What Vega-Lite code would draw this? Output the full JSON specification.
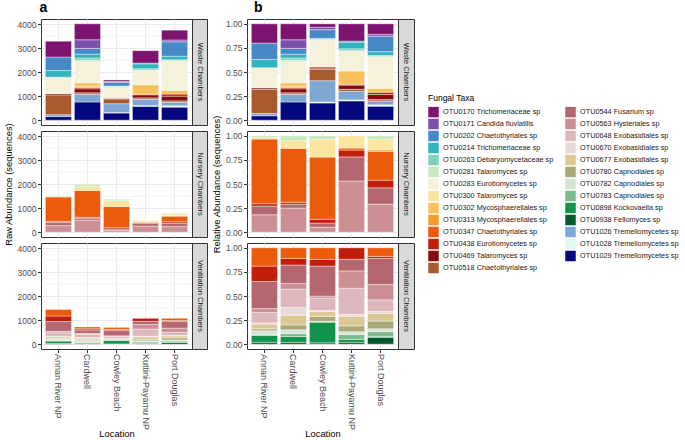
{
"$schema": "https://vega.github.io/schema/vega-lite/v6.json",
"padding": {"left": 2, "top": 0, "right": 0, "bottom": 0},
"data": {"values": [
{"c":"W","l":"Annan River NP","t":"OTU1029 Tremellomycetes sp","v":150},
{"c":"W","l":"Annan River NP","t":"OTU1026 Tremellomycetes sp","v":80},
{"c":"W","l":"Annan River NP","t":"OTU0518 Chaetothyriales sp","v":825},
{"c":"W","l":"Annan River NP","t":"OTU0469 Talaromyces sp","v":50},
{"c":"W","l":"Annan River NP","t":"OTU0283 Eurotiomycetes sp","v":690},
{"c":"W","l":"Annan River NP","t":"OTU0214 Trichomeriaceae sp","v":280},
{"c":"W","l":"Annan River NP","t":"OTU0202 Chaetothyriales sp","v":560},
{"c":"W","l":"Annan River NP","t":"OTU0170 Trichomeriaceae sp","v":660},
{"c":"W","l":"Cardwell","t":"OTU1029 Tremellomycetes sp","v":760},
{"c":"W","l":"Cardwell","t":"OTU1026 Tremellomycetes sp","v":320},
{"c":"W","l":"Cardwell","t":"OTU0518 Chaetothyriales sp","v":60},
{"c":"W","l":"Cardwell","t":"OTU0438 Eurotiomycetes sp","v":60},
{"c":"W","l":"Cardwell","t":"OTU0469 Talaromyces sp","v":160},
{"c":"W","l":"Cardwell","t":"OTU0313 Mycosphaerellales sp","v":60},
{"c":"W","l":"Cardwell","t":"OTU0302 Mycosphaerellales sp","v":140},
{"c":"W","l":"Cardwell","t":"OTU0283 Eurotiomycetes sp","v":875},
{"c":"W","l":"Cardwell","t":"OTU0281 Talaromyces sp","v":60},
{"c":"W","l":"Cardwell","t":"OTU0263 Debaryomycetaceae sp","v":100},
{"c":"W","l":"Cardwell","t":"OTU0214 Trichomeriaceae sp","v":160},
{"c":"W","l":"Cardwell","t":"OTU0202 Chaetothyriales sp","v":240},
{"c":"W","l":"Cardwell","t":"OTU0171 Candida fluviatilis","v":360},
{"c":"W","l":"Cardwell","t":"OTU0170 Trichomeriaceae sp","v":665},
{"c":"W","l":"Cowley Beach","t":"OTU1029 Tremellomycetes sp","v":300},
{"c":"W","l":"Cowley Beach","t":"OTU1028 Tremellomycetes sp","v":17},
{"c":"W","l":"Cowley Beach","t":"OTU1026 Tremellomycetes sp","v":370},
{"c":"W","l":"Cowley Beach","t":"OTU0518 Chaetothyriales sp","v":200},
{"c":"W","l":"Cowley Beach","t":"OTU0438 Eurotiomycetes sp","v":25},
{"c":"W","l":"Cowley Beach","t":"OTU0469 Talaromyces sp","v":17},
{"c":"W","l":"Cowley Beach","t":"OTU0283 Eurotiomycetes sp","v":480},
{"c":"W","l":"Cowley Beach","t":"OTU0214 Trichomeriaceae sp","v":17},
{"c":"W","l":"Cowley Beach","t":"OTU0202 Chaetothyriales sp","v":150},
{"c":"W","l":"Cowley Beach","t":"OTU0171 Candida fluviatilis","v":42},
{"c":"W","l":"Cowley Beach","t":"OTU0170 Trichomeriaceae sp","v":60},
{"c":"W","l":"Kuttini-Payamu NP","t":"OTU1029 Tremellomycetes sp","v":580},
{"c":"W","l":"Kuttini-Payamu NP","t":"OTU1028 Tremellomycetes sp","v":30},
{"c":"W","l":"Kuttini-Payamu NP","t":"OTU1026 Tremellomycetes sp","v":260},
{"c":"W","l":"Kuttini-Payamu NP","t":"OTU0518 Chaetothyriales sp","v":60},
{"c":"W","l":"Kuttini-Payamu NP","t":"OTU0438 Eurotiomycetes sp","v":30},
{"c":"W","l":"Kuttini-Payamu NP","t":"OTU0469 Talaromyces sp","v":120},
{"c":"W","l":"Kuttini-Payamu NP","t":"OTU0302 Mycosphaerellales sp","v":400},
{"c":"W","l":"Kuttini-Payamu NP","t":"OTU0283 Eurotiomycetes sp","v":610},
{"c":"W","l":"Kuttini-Payamu NP","t":"OTU0263 Debaryomycetaceae sp","v":60},
{"c":"W","l":"Kuttini-Payamu NP","t":"OTU0214 Trichomeriaceae sp","v":200},
{"c":"W","l":"Kuttini-Payamu NP","t":"OTU0202 Chaetothyriales sp","v":30},
{"c":"W","l":"Kuttini-Payamu NP","t":"OTU0170 Trichomeriaceae sp","v":520},
{"c":"W","l":"Port Douglas","t":"OTU1029 Tremellomycetes sp","v":545},
{"c":"W","l":"Port Douglas","t":"OTU1028 Tremellomycetes sp","v":55},
{"c":"W","l":"Port Douglas","t":"OTU1026 Tremellomycetes sp","v":150},
{"c":"W","l":"Port Douglas","t":"OTU0518 Chaetothyriales sp","v":55},
{"c":"W","l":"Port Douglas","t":"OTU0438 Eurotiomycetes sp","v":95},
{"c":"W","l":"Port Douglas","t":"OTU0469 Talaromyces sp","v":190},
{"c":"W","l":"Port Douglas","t":"OTU0302 Mycosphaerellales sp","v":150},
{"c":"W","l":"Port Douglas","t":"OTU0300 Talaromyces sp","v":40},
{"c":"W","l":"Port Douglas","t":"OTU0283 Eurotiomycetes sp","v":1200},
{"c":"W","l":"Port Douglas","t":"OTU0263 Debaryomycetaceae sp","v":40},
{"c":"W","l":"Port Douglas","t":"OTU0214 Trichomeriaceae sp","v":150},
{"c":"W","l":"Port Douglas","t":"OTU0202 Chaetothyriales sp","v":600},
{"c":"W","l":"Port Douglas","t":"OTU0171 Candida fluviatilis","v":75},
{"c":"W","l":"Port Douglas","t":"OTU0170 Trichomeriaceae sp","v":410},
{"c":"N","l":"Annan River NP","t":"OTU0563 Hysteriales sp","v":275},
{"c":"N","l":"Annan River NP","t":"OTU0544 Fusarium sp","v":137},
{"c":"N","l":"Annan River NP","t":"OTU0438 Eurotiomycetes sp","v":38},
{"c":"N","l":"Annan River NP","t":"OTU0347 Chaetothyriales sp","v":1020},
{"c":"N","l":"Annan River NP","t":"OTU0300 Talaromyces sp","v":22},
{"c":"N","l":"Annan River NP","t":"OTU0281 Talaromyces sp","v":30},
{"c":"N","l":"Cardwell","t":"OTU0563 Hysteriales sp","v":500},
{"c":"N","l":"Cardwell","t":"OTU0544 Fusarium sp","v":80},
{"c":"N","l":"Cardwell","t":"OTU0438 Eurotiomycetes sp","v":40},
{"c":"N","l":"Cardwell","t":"OTU0347 Chaetothyriales sp","v":1120},
{"c":"N","l":"Cardwell","t":"OTU0300 Talaromyces sp","v":160},
{"c":"N","l":"Cardwell","t":"OTU0281 Talaromyces sp","v":100},
{"c":"N","l":"Cowley Beach","t":"OTU0563 Hysteriales sp","v":70},
{"c":"N","l":"Cowley Beach","t":"OTU0544 Fusarium sp","v":60},
{"c":"N","l":"Cowley Beach","t":"OTU0438 Eurotiomycetes sp","v":55},
{"c":"N","l":"Cowley Beach","t":"OTU0347 Chaetothyriales sp","v":890},
{"c":"N","l":"Cowley Beach","t":"OTU0300 Talaromyces sp","v":255},
{"c":"N","l":"Cowley Beach","t":"OTU0281 Talaromyces sp","v":50},
{"c":"N","l":"Kuttini-Payamu NP","t":"OTU0563 Hysteriales sp","v":255},
{"c":"N","l":"Kuttini-Payamu NP","t":"OTU0544 Fusarium sp","v":120},
{"c":"N","l":"Kuttini-Payamu NP","t":"OTU0438 Eurotiomycetes sp","v":34},
{"c":"N","l":"Kuttini-Payamu NP","t":"OTU0347 Chaetothyriales sp","v":10},
{"c":"N","l":"Kuttini-Payamu NP","t":"OTU0300 Talaromyces sp","v":61},
{"c":"N","l":"Port Douglas","t":"OTU0563 Hysteriales sp","v":232},
{"c":"N","l":"Port Douglas","t":"OTU0544 Fusarium sp","v":136},
{"c":"N","l":"Port Douglas","t":"OTU0438 Eurotiomycetes sp","v":64},
{"c":"N","l":"Port Douglas","t":"OTU0347 Chaetothyriales sp","v":240},
{"c":"N","l":"Port Douglas","t":"OTU0313 Mycosphaerellales sp","v":12},
{"c":"N","l":"Port Douglas","t":"OTU0300 Talaromyces sp","v":84},
{"c":"N","l":"Port Douglas","t":"OTU0281 Talaromyces sp","v":32},
{"c":"V","l":"Annan River NP","t":"OTU0938 Fellomyces sp","v":29},
{"c":"V","l":"Annan River NP","t":"OTU0898 Kockovaella sp","v":101},
{"c":"V","l":"Annan River NP","t":"OTU0783 Capnodiales sp","v":15},
{"c":"V","l":"Annan River NP","t":"OTU0782 Capnodiales sp","v":58},
{"c":"V","l":"Annan River NP","t":"OTU0780 Capnodiales sp","v":29},
{"c":"V","l":"Annan River NP","t":"OTU0677 Exobasidiales sp","v":72},
{"c":"V","l":"Annan River NP","t":"OTU0670 Exobasidiales sp","v":15},
{"c":"V","l":"Annan River NP","t":"OTU0648 Exobasidiales sp","v":160},
{"c":"V","l":"Annan River NP","t":"OTU0563 Hysteriales sp","v":58},
{"c":"V","l":"Annan River NP","t":"OTU0544 Fusarium sp","v":406},
{"c":"V","l":"Annan River NP","t":"OTU0438 Eurotiomycetes sp","v":232},
{"c":"V","l":"Annan River NP","t":"OTU0347 Chaetothyriales sp","v":275},
{"c":"V","l":"Cardwell","t":"OTU0938 Fellomyces sp","v":14},
{"c":"V","l":"Cardwell","t":"OTU0898 Kockovaella sp","v":43},
{"c":"V","l":"Cardwell","t":"OTU0783 Capnodiales sp","v":22},
{"c":"V","l":"Cardwell","t":"OTU0782 Capnodiales sp","v":29},
{"c":"V","l":"Cardwell","t":"OTU0780 Capnodiales sp","v":36},
{"c":"V","l":"Cardwell","t":"OTU0677 Exobasidiales sp","v":72},
{"c":"V","l":"Cardwell","t":"OTU0670 Exobasidiales sp","v":58},
{"c":"V","l":"Cardwell","t":"OTU0648 Exobasidiales sp","v":137},
{"c":"V","l":"Cardwell","t":"OTU0563 Hysteriales sp","v":43},
{"c":"V","l":"Cardwell","t":"OTU0544 Fusarium sp","v":137},
{"c":"V","l":"Cardwell","t":"OTU0438 Eurotiomycetes sp","v":50},
{"c":"V","l":"Cardwell","t":"OTU0347 Chaetothyriales sp","v":79},
{"c":"V","l":"Cowley Beach","t":"OTU0938 Fellomyces sp","v":10},
{"c":"V","l":"Cowley Beach","t":"OTU0898 Kockovaella sp","v":150},
{"c":"V","l":"Cowley Beach","t":"OTU0782 Capnodiales sp","v":7},
{"c":"V","l":"Cowley Beach","t":"OTU0780 Capnodiales sp","v":35},
{"c":"V","l":"Cowley Beach","t":"OTU0677 Exobasidiales sp","v":35},
{"c":"V","l":"Cowley Beach","t":"OTU0670 Exobasidiales sp","v":7},
{"c":"V","l":"Cowley Beach","t":"OTU0648 Exobasidiales sp","v":91},
{"c":"V","l":"Cowley Beach","t":"OTU0563 Hysteriales sp","v":14},
{"c":"V","l":"Cowley Beach","t":"OTU0544 Fusarium sp","v":218},
{"c":"V","l":"Cowley Beach","t":"OTU0438 Eurotiomycetes sp","v":49},
{"c":"V","l":"Cowley Beach","t":"OTU0347 Chaetothyriales sp","v":84},
{"c":"V","l":"Kuttini-Payamu NP","t":"OTU0938 Fellomyces sp","v":22},
{"c":"V","l":"Kuttini-Payamu NP","t":"OTU0898 Kockovaella sp","v":32},
{"c":"V","l":"Kuttini-Payamu NP","t":"OTU0783 Capnodiales sp","v":54},
{"c":"V","l":"Kuttini-Payamu NP","t":"OTU0782 Capnodiales sp","v":32},
{"c":"V","l":"Kuttini-Payamu NP","t":"OTU0780 Capnodiales sp","v":65},
{"c":"V","l":"Kuttini-Payamu NP","t":"OTU0677 Exobasidiales sp","v":108},
{"c":"V","l":"Kuttini-Payamu NP","t":"OTU0670 Exobasidiales sp","v":22},
{"c":"V","l":"Kuttini-Payamu NP","t":"OTU0648 Exobasidiales sp","v":292},
{"c":"V","l":"Kuttini-Payamu NP","t":"OTU0563 Hysteriales sp","v":194},
{"c":"V","l":"Kuttini-Payamu NP","t":"OTU0544 Fusarium sp","v":130},
{"c":"V","l":"Kuttini-Payamu NP","t":"OTU0438 Eurotiomycetes sp","v":129},
{"c":"V","l":"Port Douglas","t":"OTU0938 Fellomyces sp","v":76},
{"c":"V","l":"Port Douglas","t":"OTU0898 Kockovaella sp","v":11},
{"c":"V","l":"Port Douglas","t":"OTU0783 Capnodiales sp","v":54},
{"c":"V","l":"Port Douglas","t":"OTU0782 Capnodiales sp","v":32},
{"c":"V","l":"Port Douglas","t":"OTU0780 Capnodiales sp","v":86},
{"c":"V","l":"Port Douglas","t":"OTU0677 Exobasidiales sp","v":86},
{"c":"V","l":"Port Douglas","t":"OTU0670 Exobasidiales sp","v":22},
{"c":"V","l":"Port Douglas","t":"OTU0648 Exobasidiales sp","v":130},
{"c":"V","l":"Port Douglas","t":"OTU0563 Hysteriales sp","v":173},
{"c":"V","l":"Port Douglas","t":"OTU0544 Fusarium sp","v":292},
{"c":"V","l":"Port Douglas","t":"OTU0438 Eurotiomycetes sp","v":22},
{"c":"V","l":"Port Douglas","t":"OTU0347 Chaetothyriales sp","v":96}
]},
"config": {
  "font": "Liberation Sans",
  "view": {"stroke": "#333333", "strokeWidth": 1},
  "axis": {"labelFont": "Liberation Sans", "labelFontSize": 8.5, "labelColor": "#4d4d4d", "titleFont": "Liberation Sans", "titleFontSize": 9.4, "titleFontWeight": "normal", "titleColor": "#000000", "tickColor": "#333333", "tickSize": 3.5, "labelPadding": 1.5, "domain": false, "gridColor": "#ebebeb", "titlePadding": 4, "labelOverlap": false},
  "legend": {"titleFont": "Liberation Sans", "titleFontSize": 8.5, "titleFontWeight": "normal", "titleColor": "#000000", "labelFont": "Liberation Sans", "labelFontSize": 7.3, "labelColor": "#1a1a1a", "symbolType": "square", "symbolSize": 110, "symbolStrokeWidth": 0, "symbolOpacity": 1, "rowPadding": 1, "columnPadding": 11, "labelOffset": 4, "titlePadding": 4},
  "title": {"font": "Liberation Sans", "fontSize": 14, "fontWeight": "bold", "color": "#000000", "anchor": "start", "offset": 0}
},
"spacing": 2,
"hconcat": [
{
 "title": {"text": "a", "dx": 37},
 "columns": 2, "align": "each", "bounds": "flush", "spacing": {"row": 6, "column": 0},
 "concat": [
  {"width": 151, "height": 106, "transform": [{"filter": "datum.c == 'W'"}],
   "mark": {"type": "bar", "stroke": "#ffffff", "strokeWidth": 0.4},
   "encoding": {
    "x": {"field": "l", "type": "nominal", "scale": {"paddingInner": 0.1, "paddingOuter": 0.15}, "axis": {"title": null, "labels": false, "ticks": false, "grid": true, "bandPosition": 0.5}},
    "y": {"field": "v", "type": "quantitative", "stack": "zero", "scale": {"domain": [-201, 4221], "nice": false, "zero": false}, "axis": {"title": null, "values": [0,500,1000,1500,2000,2500,3000,3500,4000], "format": "d", "labelExpr": "datum.value % 1000 == 0 ? datum.label : ''", "tickOpacity": {"condition": {"test": "datum.value % 1000 == 0", "value": 1}, "value": 0}, "gridWidth": {"condition": {"test": "datum.value % 1000 == 0", "value": 1}, "value": 0.5}}},
    "color": {"field": "t", "type": "nominal", "scale": {"domain": ["OTU0170 Trichomeriaceae sp","OTU0171 Candida fluviatilis","OTU0202 Chaetothyriales sp","OTU0214 Trichomeriaceae sp","OTU0263 Debaryomycetaceae sp","OTU0281 Talaromyces sp","OTU0283 Eurotiomycetes sp","OTU0300 Talaromyces sp","OTU0302 Mycosphaerellales sp","OTU0313 Mycosphaerellales sp","OTU0347 Chaetothyriales sp","OTU0438 Eurotiomycetes sp","OTU0469 Talaromyces sp","OTU0518 Chaetothyriales sp","OTU0544 Fusarium sp","OTU0563 Hysteriales sp","OTU0648 Exobasidiales sp","OTU0670 Exobasidiales sp","OTU0677 Exobasidiales sp","OTU0780 Capnodiales sp","OTU0782 Capnodiales sp","OTU0783 Capnodiales sp","OTU0898 Kockovaella sp","OTU0938 Fellomyces sp","OTU1026 Tremellomycetes sp","OTU1028 Tremellomycetes sp","OTU1029 Tremellomycetes sp"], "range": ["#7d1470","#7d50ae","#4689c6","#30b5be","#80d0ba","#c9e8bd","#f5f1db","#fce59f","#f8c25a","#f39b2b","#ec5a0c","#c01f0c","#820c0e","#a95b2f","#b5676f","#cc9094","#ddb7bb","#ead9db","#dcc896","#a9a877","#d5e4d3","#7ebb8c","#12924a","#055a2b","#7fa7d3","#e2f6f0","#05077f"]}, "legend": {"title": "Fungal Taxa", "orient": "none", "legendX": 387, "legendY": 75, "columns": 2}},
    "order": {"field": "t", "sort": "descending"}
   }},
  {"width": 15, "height": 106, "data": {"values": [{"s": "Waste Chambers"}]}, "mark": {"type": "text", "angle": 90, "fontSize": 7.6, "color": "#1a1a1a", "font": "Liberation Sans"}, "encoding": {"text": {"field": "s"}}, "view": {"fill": "#d9d9d9", "stroke": "#333333"}},
  {"width": 151, "height": 106, "transform": [{"filter": "datum.c == 'N'"}],
   "mark": {"type": "bar", "stroke": "#ffffff", "strokeWidth": 0.4},
   "encoding": {
    "x": {"field": "l", "type": "nominal", "scale": {"paddingInner": 0.1, "paddingOuter": 0.15}, "axis": {"title": null, "labels": false, "ticks": false, "grid": true, "bandPosition": 0.5}},
    "y": {"field": "v", "type": "quantitative", "stack": "zero", "scale": {"domain": [-201, 4221], "nice": false, "zero": false}, "axis": {"title": "Raw Abundance (sequences)", "values": [0,500,1000,1500,2000,2500,3000,3500,4000], "format": "d", "labelExpr": "datum.value % 1000 == 0 ? datum.label : ''", "tickOpacity": {"condition": {"test": "datum.value % 1000 == 0", "value": 1}, "value": 0}, "gridWidth": {"condition": {"test": "datum.value % 1000 == 0", "value": 1}, "value": 0.5}}},
    "color": {"field": "t", "type": "nominal", "scale": {"domain": ["OTU0170 Trichomeriaceae sp","OTU0171 Candida fluviatilis","OTU0202 Chaetothyriales sp","OTU0214 Trichomeriaceae sp","OTU0263 Debaryomycetaceae sp","OTU0281 Talaromyces sp","OTU0283 Eurotiomycetes sp","OTU0300 Talaromyces sp","OTU0302 Mycosphaerellales sp","OTU0313 Mycosphaerellales sp","OTU0347 Chaetothyriales sp","OTU0438 Eurotiomycetes sp","OTU0469 Talaromyces sp","OTU0518 Chaetothyriales sp","OTU0544 Fusarium sp","OTU0563 Hysteriales sp","OTU0648 Exobasidiales sp","OTU0670 Exobasidiales sp","OTU0677 Exobasidiales sp","OTU0780 Capnodiales sp","OTU0782 Capnodiales sp","OTU0783 Capnodiales sp","OTU0898 Kockovaella sp","OTU0938 Fellomyces sp","OTU1026 Tremellomycetes sp","OTU1028 Tremellomycetes sp","OTU1029 Tremellomycetes sp"], "range": ["#7d1470","#7d50ae","#4689c6","#30b5be","#80d0ba","#c9e8bd","#f5f1db","#fce59f","#f8c25a","#f39b2b","#ec5a0c","#c01f0c","#820c0e","#a95b2f","#b5676f","#cc9094","#ddb7bb","#ead9db","#dcc896","#a9a877","#d5e4d3","#7ebb8c","#12924a","#055a2b","#7fa7d3","#e2f6f0","#05077f"]}, "legend": {"title": "Fungal Taxa", "orient": "none", "legendX": 387, "legendY": 75, "columns": 2}},
    "order": {"field": "t", "sort": "descending"}
   }},
  {"width": 15, "height": 106, "data": {"values": [{"s": "Nursery Chambers"}]}, "mark": {"type": "text", "angle": 90, "fontSize": 7.6, "color": "#1a1a1a", "font": "Liberation Sans"}, "encoding": {"text": {"field": "s"}}, "view": {"fill": "#d9d9d9", "stroke": "#333333"}},
  {"width": 151, "height": 106, "transform": [{"filter": "datum.c == 'V'"}],
   "mark": {"type": "bar", "stroke": "#ffffff", "strokeWidth": 0.4},
   "encoding": {
    "x": {"field": "l", "type": "nominal", "scale": {"paddingInner": 0.1, "paddingOuter": 0.15}, "axis": {"title": "Location", "labelAngle": 90, "labelAlign": "left", "labelBaseline": "middle", "labelFontSize": 9, "labelPadding": 1, "grid": true, "bandPosition": 0.5, "titlePadding": 0}},
    "y": {"field": "v", "type": "quantitative", "stack": "zero", "scale": {"domain": [-201, 4221], "nice": false, "zero": false}, "axis": {"title": null, "values": [0,500,1000,1500,2000,2500,3000,3500,4000], "format": "d", "labelExpr": "datum.value % 1000 == 0 ? datum.label : ''", "tickOpacity": {"condition": {"test": "datum.value % 1000 == 0", "value": 1}, "value": 0}, "gridWidth": {"condition": {"test": "datum.value % 1000 == 0", "value": 1}, "value": 0.5}}},
    "color": {"field": "t", "type": "nominal", "scale": {"domain": ["OTU0170 Trichomeriaceae sp","OTU0171 Candida fluviatilis","OTU0202 Chaetothyriales sp","OTU0214 Trichomeriaceae sp","OTU0263 Debaryomycetaceae sp","OTU0281 Talaromyces sp","OTU0283 Eurotiomycetes sp","OTU0300 Talaromyces sp","OTU0302 Mycosphaerellales sp","OTU0313 Mycosphaerellales sp","OTU0347 Chaetothyriales sp","OTU0438 Eurotiomycetes sp","OTU0469 Talaromyces sp","OTU0518 Chaetothyriales sp","OTU0544 Fusarium sp","OTU0563 Hysteriales sp","OTU0648 Exobasidiales sp","OTU0670 Exobasidiales sp","OTU0677 Exobasidiales sp","OTU0780 Capnodiales sp","OTU0782 Capnodiales sp","OTU0783 Capnodiales sp","OTU0898 Kockovaella sp","OTU0938 Fellomyces sp","OTU1026 Tremellomycetes sp","OTU1028 Tremellomycetes sp","OTU1029 Tremellomycetes sp"], "range": ["#7d1470","#7d50ae","#4689c6","#30b5be","#80d0ba","#c9e8bd","#f5f1db","#fce59f","#f8c25a","#f39b2b","#ec5a0c","#c01f0c","#820c0e","#a95b2f","#b5676f","#cc9094","#ddb7bb","#ead9db","#dcc896","#a9a877","#d5e4d3","#7ebb8c","#12924a","#055a2b","#7fa7d3","#e2f6f0","#05077f"]}, "legend": {"title": "Fungal Taxa", "orient": "none", "legendX": 387, "legendY": 75, "columns": 2}},
    "order": {"field": "t", "sort": "descending"}
   }},
  {"width": 15, "height": 106, "data": {"values": [{"s": "Ventilation Chambers"}]}, "mark": {"type": "text", "angle": 90, "fontSize": 7.6, "color": "#1a1a1a", "font": "Liberation Sans"}, "encoding": {"text": {"field": "s"}}, "view": {"fill": "#d9d9d9", "stroke": "#333333"}}
 ]
},
{
 "title": {"text": "b", "dx": 43},
 "columns": 2, "align": "each", "bounds": "flush", "spacing": {"row": 6, "column": 0},
 "concat": [
  {"width": 151, "height": 106, "transform": [{"filter": "datum.c == 'W'"}],
   "mark": {"type": "bar", "stroke": "#ffffff", "strokeWidth": 0.4},
   "encoding": {
    "x": {"field": "l", "type": "nominal", "scale": {"paddingInner": 0.1, "paddingOuter": 0.15}, "axis": {"title": null, "labels": false, "ticks": false, "grid": true, "bandPosition": 0.5}},
    "y": {"field": "v", "type": "quantitative", "stack": "normalize", "scale": {"domain": [-0.05, 1.05], "nice": false, "zero": false}, "axis": {"title": null, "values": [0,0.125,0.25,0.375,0.5,0.625,0.75,0.875,1], "labelExpr": "(datum.value * 4) % 1 == 0 ? format(datum.value, '.2f') : ''", "tickOpacity": {"condition": {"test": "(datum.value * 4) % 1 == 0", "value": 1}, "value": 0}, "gridWidth": {"condition": {"test": "(datum.value * 4) % 1 == 0", "value": 1}, "value": 0.5}}},
    "color": {"field": "t", "type": "nominal", "scale": {"domain": ["OTU0170 Trichomeriaceae sp","OTU0171 Candida fluviatilis","OTU0202 Chaetothyriales sp","OTU0214 Trichomeriaceae sp","OTU0263 Debaryomycetaceae sp","OTU0281 Talaromyces sp","OTU0283 Eurotiomycetes sp","OTU0300 Talaromyces sp","OTU0302 Mycosphaerellales sp","OTU0313 Mycosphaerellales sp","OTU0347 Chaetothyriales sp","OTU0438 Eurotiomycetes sp","OTU0469 Talaromyces sp","OTU0518 Chaetothyriales sp","OTU0544 Fusarium sp","OTU0563 Hysteriales sp","OTU0648 Exobasidiales sp","OTU0670 Exobasidiales sp","OTU0677 Exobasidiales sp","OTU0780 Capnodiales sp","OTU0782 Capnodiales sp","OTU0783 Capnodiales sp","OTU0898 Kockovaella sp","OTU0938 Fellomyces sp","OTU1026 Tremellomycetes sp","OTU1028 Tremellomycetes sp","OTU1029 Tremellomycetes sp"], "range": ["#7d1470","#7d50ae","#4689c6","#30b5be","#80d0ba","#c9e8bd","#f5f1db","#fce59f","#f8c25a","#f39b2b","#ec5a0c","#c01f0c","#820c0e","#a95b2f","#b5676f","#cc9094","#ddb7bb","#ead9db","#dcc896","#a9a877","#d5e4d3","#7ebb8c","#12924a","#055a2b","#7fa7d3","#e2f6f0","#05077f"]}, "legend": {"title": "Fungal Taxa", "orient": "none", "legendX": 387, "legendY": 75, "columns": 2}},
    "order": {"field": "t", "sort": "descending"}
   }},
  {"width": 16, "height": 106, "data": {"values": [{"s": "Waste Chambers"}]}, "mark": {"type": "text", "angle": 90, "fontSize": 7.6, "color": "#1a1a1a", "font": "Liberation Sans"}, "encoding": {"text": {"field": "s"}}, "view": {"fill": "#d9d9d9", "stroke": "#333333"}},
  {"width": 151, "height": 106, "transform": [{"filter": "datum.c == 'N'"}],
   "mark": {"type": "bar", "stroke": "#ffffff", "strokeWidth": 0.4},
   "encoding": {
    "x": {"field": "l", "type": "nominal", "scale": {"paddingInner": 0.1, "paddingOuter": 0.15}, "axis": {"title": null, "labels": false, "ticks": false, "grid": true, "bandPosition": 0.5}},
    "y": {"field": "v", "type": "quantitative", "stack": "normalize", "scale": {"domain": [-0.05, 1.05], "nice": false, "zero": false}, "axis": {"title": "Relative Abundance (sequences)", "values": [0,0.125,0.25,0.375,0.5,0.625,0.75,0.875,1], "labelExpr": "(datum.value * 4) % 1 == 0 ? format(datum.value, '.2f') : ''", "tickOpacity": {"condition": {"test": "(datum.value * 4) % 1 == 0", "value": 1}, "value": 0}, "gridWidth": {"condition": {"test": "(datum.value * 4) % 1 == 0", "value": 1}, "value": 0.5}}},
    "color": {"field": "t", "type": "nominal", "scale": {"domain": ["OTU0170 Trichomeriaceae sp","OTU0171 Candida fluviatilis","OTU0202 Chaetothyriales sp","OTU0214 Trichomeriaceae sp","OTU0263 Debaryomycetaceae sp","OTU0281 Talaromyces sp","OTU0283 Eurotiomycetes sp","OTU0300 Talaromyces sp","OTU0302 Mycosphaerellales sp","OTU0313 Mycosphaerellales sp","OTU0347 Chaetothyriales sp","OTU0438 Eurotiomycetes sp","OTU0469 Talaromyces sp","OTU0518 Chaetothyriales sp","OTU0544 Fusarium sp","OTU0563 Hysteriales sp","OTU0648 Exobasidiales sp","OTU0670 Exobasidiales sp","OTU0677 Exobasidiales sp","OTU0780 Capnodiales sp","OTU0782 Capnodiales sp","OTU0783 Capnodiales sp","OTU0898 Kockovaella sp","OTU0938 Fellomyces sp","OTU1026 Tremellomycetes sp","OTU1028 Tremellomycetes sp","OTU1029 Tremellomycetes sp"], "range": ["#7d1470","#7d50ae","#4689c6","#30b5be","#80d0ba","#c9e8bd","#f5f1db","#fce59f","#f8c25a","#f39b2b","#ec5a0c","#c01f0c","#820c0e","#a95b2f","#b5676f","#cc9094","#ddb7bb","#ead9db","#dcc896","#a9a877","#d5e4d3","#7ebb8c","#12924a","#055a2b","#7fa7d3","#e2f6f0","#05077f"]}, "legend": {"title": "Fungal Taxa", "orient": "none", "legendX": 387, "legendY": 75, "columns": 2}},
    "order": {"field": "t", "sort": "descending"}
   }},
  {"width": 16, "height": 106, "data": {"values": [{"s": "Nursery Chambers"}]}, "mark": {"type": "text", "angle": 90, "fontSize": 7.6, "color": "#1a1a1a", "font": "Liberation Sans"}, "encoding": {"text": {"field": "s"}}, "view": {"fill": "#d9d9d9", "stroke": "#333333"}},
  {"width": 151, "height": 106, "transform": [{"filter": "datum.c == 'V'"}],
   "mark": {"type": "bar", "stroke": "#ffffff", "strokeWidth": 0.4},
   "encoding": {
    "x": {"field": "l", "type": "nominal", "scale": {"paddingInner": 0.1, "paddingOuter": 0.15}, "axis": {"title": "Location", "labelAngle": 90, "labelAlign": "left", "labelBaseline": "middle", "labelFontSize": 9, "labelPadding": 1, "grid": true, "bandPosition": 0.5, "titlePadding": 0}},
    "y": {"field": "v", "type": "quantitative", "stack": "normalize", "scale": {"domain": [-0.05, 1.05], "nice": false, "zero": false}, "axis": {"title": null, "values": [0,0.125,0.25,0.375,0.5,0.625,0.75,0.875,1], "labelExpr": "(datum.value * 4) % 1 == 0 ? format(datum.value, '.2f') : ''", "tickOpacity": {"condition": {"test": "(datum.value * 4) % 1 == 0", "value": 1}, "value": 0}, "gridWidth": {"condition": {"test": "(datum.value * 4) % 1 == 0", "value": 1}, "value": 0.5}}},
    "color": {"field": "t", "type": "nominal", "scale": {"domain": ["OTU0170 Trichomeriaceae sp","OTU0171 Candida fluviatilis","OTU0202 Chaetothyriales sp","OTU0214 Trichomeriaceae sp","OTU0263 Debaryomycetaceae sp","OTU0281 Talaromyces sp","OTU0283 Eurotiomycetes sp","OTU0300 Talaromyces sp","OTU0302 Mycosphaerellales sp","OTU0313 Mycosphaerellales sp","OTU0347 Chaetothyriales sp","OTU0438 Eurotiomycetes sp","OTU0469 Talaromyces sp","OTU0518 Chaetothyriales sp","OTU0544 Fusarium sp","OTU0563 Hysteriales sp","OTU0648 Exobasidiales sp","OTU0670 Exobasidiales sp","OTU0677 Exobasidiales sp","OTU0780 Capnodiales sp","OTU0782 Capnodiales sp","OTU0783 Capnodiales sp","OTU0898 Kockovaella sp","OTU0938 Fellomyces sp","OTU1026 Tremellomycetes sp","OTU1028 Tremellomycetes sp","OTU1029 Tremellomycetes sp"], "range": ["#7d1470","#7d50ae","#4689c6","#30b5be","#80d0ba","#c9e8bd","#f5f1db","#fce59f","#f8c25a","#f39b2b","#ec5a0c","#c01f0c","#820c0e","#a95b2f","#b5676f","#cc9094","#ddb7bb","#ead9db","#dcc896","#a9a877","#d5e4d3","#7ebb8c","#12924a","#055a2b","#7fa7d3","#e2f6f0","#05077f"]}, "legend": {"title": "Fungal Taxa", "orient": "none", "legendX": 387, "legendY": 75, "columns": 2}},
    "order": {"field": "t", "sort": "descending"}
   }},
  {"width": 16, "height": 106, "data": {"values": [{"s": "Ventilation Chambers"}]}, "mark": {"type": "text", "angle": 90, "fontSize": 7.6, "color": "#1a1a1a", "font": "Liberation Sans"}, "encoding": {"text": {"field": "s"}}, "view": {"fill": "#d9d9d9", "stroke": "#333333"}}
 ]
}
]
}
